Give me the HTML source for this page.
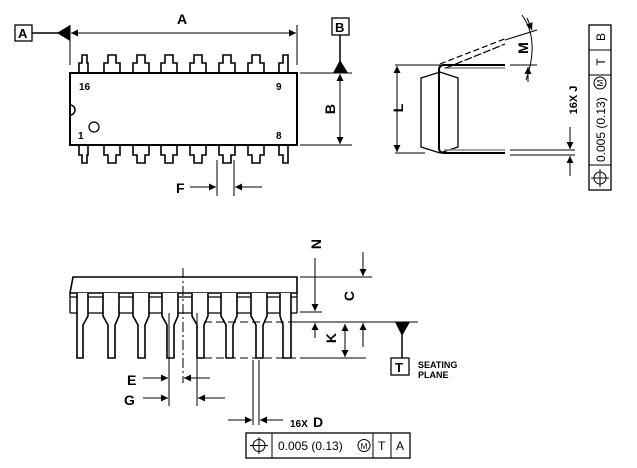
<!DOCTYPE html>
<html><head><meta charset="utf-8"><style>
html,body{margin:0;padding:0;background:#fff;}
svg{display:block;font-family:"Liberation Sans",Arial,sans-serif;}
.b{font-weight:bold;}
</style></head><body>
<svg width="637" height="468" viewBox="0 0 637 468" xmlns="http://www.w3.org/2000/svg">
<defs>
<marker id="ar" viewBox="0 0 10 10" refX="10" refY="5" markerWidth="9" markerHeight="7" orient="auto-start-reverse" markerUnits="userSpaceOnUse"><path d="M0,0 L10,5 L0,10 z" fill="#000"/></marker>
</defs>
<g stroke="#000" fill="none" stroke-width="1">
<!-- TOP VIEW -->
<rect x="70" y="73" width="227" height="72" stroke-width="2"/>
<path d="M70,105 A5,5 0 0 1 70,115" stroke-width="1.5"/>
<circle cx="94" cy="127" r="5" stroke-width="1.3"/>
<g stroke-width="1.6">
<path d="M79,73 V63 H82 V55 H87 V63 H88 V73"/>
<path d="M104,73 V63 H108 V55 H116 V63 H120 V73"/>
<path d="M133,73 V63 H137 V55 H145 V63 H149 V73"/>
<path d="M161,73 V63 H165 V55 H173 V63 H177 V73"/>
<path d="M190,73 V63 H194 V55 H202 V63 H206 V73"/>
<path d="M219,73 V63 H223 V55 H231 V63 H235 V73"/>
<path d="M248,73 V63 H252 V55 H260 V63 H264 V73"/>
<path d="M279,73 V63 H283 V55 H288 V73"/>
<path d="M79,145 V155 H82 V163 H87 V155 H88 V145"/>
<path d="M104,145 V155 H108 V163 H116 V155 H120 V145"/>
<path d="M133,145 V155 H137 V163 H145 V155 H149 V145"/>
<path d="M161,145 V155 H165 V163 H173 V155 H177 V145"/>
<path d="M190,145 V155 H194 V163 H202 V155 H206 V145"/>
<path d="M219,145 V155 H223 V163 H231 V155 H235 V145"/>
<path d="M248,145 V155 H252 V163 H260 V155 H264 V145"/>
<path d="M279,145 V155 H283 V163 H288 V145"/>
</g>
<line x1="70" y1="25" x2="70" y2="65"/>
<line x1="297" y1="25" x2="297" y2="65"/>
<line x1="71" y1="33" x2="296" y2="33" marker-start="url(#ar)" marker-end="url(#ar)"/>
<rect x="15" y="25" width="17" height="16" stroke-width="1.3"/>
<line x1="32" y1="33" x2="60" y2="33" stroke-width="1.5"/>
<rect x="332" y="18" width="17" height="17" stroke-width="1.3"/>
<line x1="340" y1="35" x2="340" y2="62" stroke-width="1.5"/>
<line x1="300" y1="73" x2="352" y2="73"/>
<line x1="300" y1="145" x2="352" y2="145"/>
<line x1="340" y1="74" x2="340" y2="144" marker-start="url(#ar)" marker-end="url(#ar)"/>
<line x1="217" y1="160" x2="217" y2="196"/>
<line x1="234" y1="160" x2="234" y2="196"/>
<line x1="190" y1="187" x2="216" y2="187" marker-end="url(#ar)"/>
<line x1="262" y1="187" x2="235" y2="187" marker-end="url(#ar)"/>

<!-- SIDE VIEW -->
<path d="M421,78 L440,72 L458,78 L458,147 L440,153 L421,147 Z" stroke-width="1.3"/>
<path d="M505,65 H444 Q439,65 439,70 V148 Q439,153 444,153 H505" stroke-width="2"/>
<line x1="444" y1="68" x2="505" y2="68" stroke="#888" stroke-width="1.5"/>
<line x1="444" y1="150" x2="505" y2="150" stroke="#888" stroke-width="1.5"/>
<path d="M440,64 L507,38" stroke-dasharray="6,3" stroke-width="1.2"/>
<path d="M446,68 L505,44" stroke-dasharray="8,2" stroke-width="1.2"/>
<line x1="395" y1="65" x2="440" y2="65"/>
<line x1="395" y1="153" x2="425" y2="153"/>
<line x1="397" y1="66" x2="397" y2="152" marker-start="url(#ar)" marker-end="url(#ar)"/>
<line x1="510" y1="65" x2="537" y2="65"/>
<line x1="505" y1="40" x2="537" y2="30"/>
<path d="M522,15 Q540,40 526,80" />
<line x1="527" y1="18" x2="532" y2="30" marker-end="url(#ar)"/>
<line x1="528" y1="82" x2="528" y2="67" marker-end="url(#ar)"/>
<line x1="510" y1="150" x2="575" y2="150"/>
<line x1="510" y1="155" x2="575" y2="155"/>
<line x1="570" y1="127" x2="570" y2="149" marker-end="url(#ar)"/>
<line x1="570" y1="176" x2="570" y2="156" marker-end="url(#ar)"/>
<rect x="589" y="25" width="22" height="165" stroke-width="1.3"/>
<line x1="589" y1="50" x2="611" y2="50"/>
<line x1="589" y1="75" x2="611" y2="75"/>
<line x1="589" y1="165" x2="611" y2="165"/>
<circle cx="600" cy="178" r="6"/>
<line x1="591" y1="178" x2="609" y2="178"/>
<line x1="600" y1="169" x2="600" y2="187"/>
<circle cx="600" cy="83" r="6"/>

<!-- FRONT VIEW -->
<path d="M73,277 H297 V293 H70 Z" stroke-width="1.6"/>
<path d="M70,293 V313 M297,293 V313" stroke-width="1.3"/>
<line x1="70" y1="297" x2="297" y2="297" stroke-width="1.3"/>
<line x1="70" y1="313" x2="297" y2="313" stroke-width="1.3"/>
<g stroke-width="1.6" fill="#fff">
<path d="M77,293 V358 H83 V325 L88,316 V293"/>
<path d="M103,293 V316 L108,325 V358 H115 V325 L119,316 V293"/>
<path d="M133,293 V316 L138,325 V358 H145 V325 L149,316 V293"/>
<path d="M162,293 V316 L167,325 V358 H174 V325 L178,316 V293"/>
<path d="M192,293 V316 L197,325 V358 H204 V325 L208,316 V293"/>
<path d="M221,293 V316 L226,325 V358 H233 V325 L237,316 V293"/>
<path d="M251,293 V316 L256,325 V358 H263 V325 L267,316 V293"/>
<path d="M280,293 V316 L283,325 V358 H291 V293"/>
</g>
<line x1="183" y1="268" x2="183" y2="383" stroke-dasharray="10,3,2,3"/>
<line x1="204" y1="322" x2="300" y2="322" stroke-dasharray="8,4"/>
<line x1="204" y1="358" x2="300" y2="358" stroke-dasharray="8,4"/>
<line x1="300" y1="277" x2="372" y2="277"/>
<line x1="300" y1="312" x2="322" y2="312"/>
<line x1="295" y1="322" x2="418" y2="322"/>
<line x1="300" y1="358" x2="366" y2="358"/>
<line x1="315" y1="258" x2="315" y2="311" marker-end="url(#ar)"/>
<line x1="315" y1="338" x2="315" y2="323" marker-end="url(#ar)"/>
<line x1="363" y1="252" x2="363" y2="276" marker-end="url(#ar)"/>
<line x1="363" y1="347" x2="363" y2="323" marker-end="url(#ar)"/>
<line x1="345" y1="324" x2="345" y2="357" marker-start="url(#ar)" marker-end="url(#ar)"/>
<line x1="402" y1="335" x2="402" y2="358" stroke-width="1.5"/>
<rect x="391" y="358" width="18" height="17" stroke-width="1.3"/>
<line x1="169" y1="313" x2="169" y2="406"/>
<line x1="197" y1="313" x2="197" y2="406"/>
<line x1="143" y1="378" x2="168" y2="378" marker-end="url(#ar)"/>
<line x1="210" y1="378" x2="184" y2="378" marker-end="url(#ar)"/>
<line x1="143" y1="398" x2="168" y2="398" marker-end="url(#ar)"/>
<line x1="225" y1="398" x2="198" y2="398" marker-end="url(#ar)"/>
<line x1="253" y1="360" x2="253" y2="425"/>
<line x1="259" y1="360" x2="259" y2="425"/>
<line x1="228" y1="420" x2="252" y2="420" marker-end="url(#ar)"/>
<line x1="283" y1="420" x2="260" y2="420" marker-end="url(#ar)"/>
<rect x="246" y="433" width="164" height="25" stroke-width="1.3"/>
<line x1="272" y1="433" x2="272" y2="458"/>
<line x1="373" y1="433" x2="373" y2="458"/>
<line x1="391" y1="433" x2="391" y2="458"/>
<circle cx="259" cy="445.5" r="6"/>
<line x1="250" y1="445.5" x2="268" y2="445.5"/>
<line x1="259" y1="437" x2="259" y2="454"/>
<circle cx="364" cy="445.5" r="6"/>
</g>
<g fill="#000">
<path d="M57,33 L70,25 L70,41 Z"/>
<path d="M333,73 L340,60 L348,73 Z"/>
<path d="M395,322 L410,322 L402,336 Z"/>
</g>
<g class="b" font-size="14">
<text x="18" y="38" font-size="13">A</text>
<text x="177" y="24">A</text>
<text x="335" y="32" font-size="13">B</text>
<text x="176" y="193">F</text>
<text x="335" y="109" transform="rotate(-90 335 109)" text-anchor="middle">B</text>
<text x="403" y="108" transform="rotate(-90 403 108)" text-anchor="middle">L</text>
<text x="528" y="48" transform="rotate(-90 528 48)" text-anchor="middle">M</text>
<text x="321" y="244" transform="rotate(-90 321 244)" text-anchor="middle">N</text>
<text x="354" y="296" transform="rotate(-90 354 296)" text-anchor="middle">C</text>
<text x="336" y="338" transform="rotate(-90 336 338)" text-anchor="middle">K</text>
<text x="127" y="385">E</text>
<text x="124" y="405">G</text>
<text x="313" y="427">D</text>
<text x="395" y="372" font-size="13">T</text>
</g>
<g class="b" font-size="10">
<text x="79" y="90">16</text>
<text x="276" y="90">9</text>
<text x="78" y="139">1</text>
<text x="276" y="139">8</text>
<text x="290" y="427">16X</text>
<text x="418" y="368" font-size="9">SEATING</text>
<text x="418" y="378" font-size="9">PLANE</text>
<text x="577" y="100" transform="rotate(-90 577 100)" text-anchor="middle" font-size="11">16X J</text>
</g>
<g font-size="12">
<text x="278" y="450">0.005 (0.13)</text>
<text x="364" y="449" font-size="8" text-anchor="middle">M</text>
<text x="378" y="450">T</text>
<text x="396" y="450">A</text>
<text x="605" y="162" transform="rotate(-90 605 162)">0.005 (0.13)</text>
<text x="603" y="83" transform="rotate(-90 603 83)" font-size="8" text-anchor="middle">M</text>
<text x="605" y="62" transform="rotate(-90 605 62)" text-anchor="middle">T</text>
<text x="605" y="37" transform="rotate(-90 605 37)" text-anchor="middle">B</text>
</g>
</svg>
</body></html>
